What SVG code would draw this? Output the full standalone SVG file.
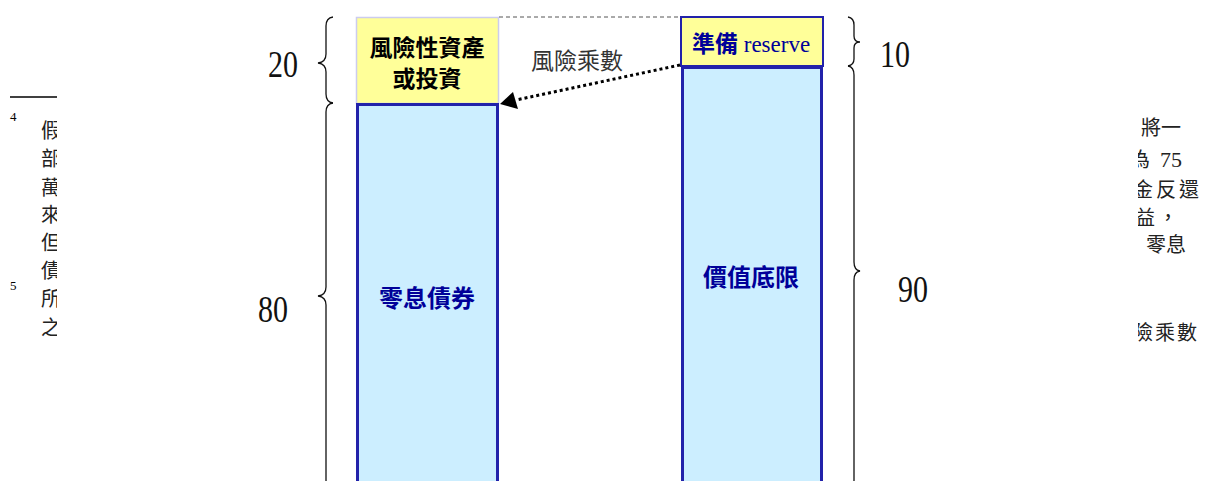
<svg xmlns="http://www.w3.org/2000/svg" width="1206" height="481" viewBox="0 0 1206 481">
<style>
.cjk{font-family:"Noto Sans CJK TC","Noto Sans CJK SC",sans-serif}
.note{font-family:"Noto Sans CJK TC","Noto Sans CJK SC",serif;font-size:20px;fill:#222}
.num{font-family:"Liberation Serif",serif;font-size:30px;fill:#111}
.sup{font-family:"Liberation Serif",serif;font-size:13px;fill:#000}
.yel{fill:#ffff99}
.blu{fill:#cceeff;stroke:#2222aa;stroke-width:3}
.lbl{font-family:"Noto Sans CJK TC","Noto Sans CJK SC",sans-serif;font-weight:bold;font-size:24px;fill:#000099;text-anchor:middle}
.brace{fill:none;stroke:#111;stroke-width:1.3}
</style>
<defs>
<clipPath id="cl"><rect x="0" y="0" width="57" height="481"/></clipPath>
<clipPath id="cr"><rect x="1138" y="0" width="68" height="481"/></clipPath>
</defs>
<rect width="1206" height="481" fill="#fff"/>

<g id="footnote-left">
<line x1="10" y1="97" x2="57" y2="97" stroke="#000" stroke-width="1.5"/>
<text class="sup" x="10" y="121">4</text>
<text class="sup" x="10" y="290">5</text>
<g clip-path="url(#cl)">
<text class="note" x="41" y="138">假</text>
<text class="note" x="41" y="166">部</text>
<text class="note" x="41" y="195">萬</text>
<text class="note" x="41" y="222">來</text>
<text class="note" x="41" y="250">但</text>
<text class="note" x="41" y="278">債</text>
<text class="note" x="41" y="306">所</text>
<text class="note" x="41" y="335">之</text>
</g>
</g>

<g id="footnote-right" clip-path="url(#cr)">
<text class="note" x="1141" y="135">將一</text>
<text class="note" x="1130" y="167">為</text>
<text x="1160" y="167" font-family="Liberation Serif,serif" font-size="22" fill="#222">75</text>
<text class="note" x="1133" y="197" letter-spacing="3">金反還</text>
<text class="note" x="1135" y="225" letter-spacing="3">益，</text>
<text class="note" x="1146" y="252">零息</text>
<text class="note" x="1133" y="340" letter-spacing="2">險乘數</text>
</g>

<g id="brace-20">
<path class="brace" d="M333,17 Q326,18 326,26 L326,54 Q326,62 318,63 Q326,64 326,72 L326,94 Q326,102 333,103"/>
<text class="num" transform="translate(268,77) scale(1,1.25)">20</text>
</g>
<g id="brace-80">
<path class="brace" d="M333,103 Q326,104 326,112 L326,287 Q326,295 318,296 Q326,297 326,305 L326,480 Q326,488 333,489"/>
<text class="num" transform="translate(258,322) scale(1,1.25)">80</text>
</g>
<g id="brace-10">
<path class="brace" d="M848,17 Q854,18 854,25 L854,36 Q854,42 860,42 Q854,42 854,48 L854,59 Q854,65 848,66"/>
<text class="num" transform="translate(880,67) scale(1,1.25)">10</text>
</g>
<g id="brace-90">
<path class="brace" d="M848,66 Q854,67 854,75 L854,262 Q854,270 860,271 Q854,272 854,280 L854,480 Q854,488 848,489"/>
<text class="num" transform="translate(898,302) scale(1,1.25)">90</text>
</g>

<g id="risky-asset">
<rect class="yel" x="356.5" y="17.5" width="142" height="86" stroke="#ccccee" stroke-width="1.5"/>
<text class="cjk" x="427" y="56" font-size="23" font-weight="bold" fill="#000" text-anchor="middle">風險性資產</text>
<text class="cjk" x="427" y="87" font-size="23" font-weight="bold" fill="#000" text-anchor="middle">或投資</text>
</g>
<g id="zero-bond">
<rect class="blu" x="357.5" y="104.5" width="140" height="390"/>
<text class="lbl" x="427" y="307">零息債券</text>
</g>
<g id="reserve">
<rect class="yel" x="681" y="17" width="142" height="49" stroke="#2222aa" stroke-width="2"/>
<text x="692" y="52" fill="#000099" font-size="23"><tspan class="cjk" font-weight="bold">準備</tspan><tspan font-family="Liberation Serif,serif"> reserve</tspan></text>
</g>
<g id="floor">
<rect class="blu" x="682.5" y="67.5" width="139" height="420"/>
<text class="lbl" x="751" y="286">價值底限</text>
</g>

<g id="connectors">
<line x1="499" y1="17" x2="681" y2="17" stroke="#555" stroke-width="1" stroke-dasharray="4 3"/>
<line x1="680" y1="65" x2="516" y2="100" stroke="#000" stroke-width="3" stroke-dasharray="3 3"/>
<path d="M500,104 L513,92 L518,109 z" fill="#000"/>
<text class="cjk" x="577" y="69" font-size="23" fill="#333" text-anchor="middle">風險乘數</text>
</g>
</svg>
